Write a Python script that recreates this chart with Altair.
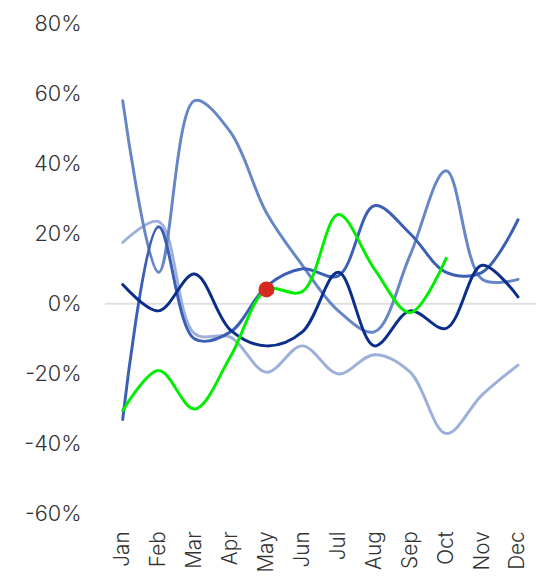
import altair as alt
import pandas as pd

months = ["Jan", "Feb", "Mar", "Apr", "May", "Jun", "Jul", "Aug", "Sep", "Oct", "Nov", "Dec"]

series_lightest = [17.5, 23.5, -8.5, -9.5, -19.5, -12, -20, -14.5, -19.5, -37, -26, -17.5]
series_lightmid = [58, 9, 58, 49, 26, 11, -2, -8, 14, 38, 7, 7]
series_medium = [-33, 22, -10, -8, 5, 10, 8, 28, 20, 9, 9, 24]
series_navy = [5.5, -2, 8.5, -7.5, -12, -8, 9, -12, -2, -7, 11, 2]
series_green = [-30.5, -19, -30, -15, 4, 3.5, 25.5, 10, -2.5, 13]

highlight_month = ["May"]
highlight_value = [4.1]

series_names = ["S1", "S2", "S3", "S4", "S5"]
series_colors = ["#9cb0da", "#6686c6", "#3a5fb4", "#0b2e8c", "#00ee00"]
all_series = [series_lightest, series_lightmid, series_medium, series_navy, series_green]

rows = []
for name, vals in zip(series_names, all_series):
    for i, v in enumerate(vals):
        rows.append({"month": months[i], "value": v, "series": name})
df = pd.DataFrame(rows)

dot_df = pd.DataFrame({"month": highlight_month, "value": highlight_value})
zero_df = pd.DataFrame({"month": ["Jan"], "value": [0]})

FONT = "Inter"

x_scale = alt.Scale(type="point", padding=0.5, domain=months)
y_scale = alt.Scale(domain=[-60, 80], nice=False, zero=False)

x_enc = alt.X(
    "month:O",
    sort=months,
    scale=x_scale,
    axis=alt.Axis(
        title=None, labelAngle=-90, labelFontSize=21, labelColor="#333333",
        labelFont=FONT, labelFontWeight=300, ticks=False, domain=False, grid=False,
        labelPadding=17, labelAlign="right", labelBaseline="middle",
    ),
)
y_enc = alt.Y(
    "value:Q",
    scale=y_scale,
    axis=alt.Axis(
        title=None, values=[-60, -40, -20, 0, 20, 40, 60, 80],
        labelExpr="datum.value + '%'", labelFontSize=22, labelColor="#333333",
        labelFont=FONT, labelFontWeight=300, ticks=False, domain=False, grid=False,
        labelPadding=24,
    ),
)

zero_rule = alt.Chart(zero_df).mark_rule(color="#e0e0e0", strokeWidth=2).encode(
    y=y_enc
)

lines = []
for name, color in zip(series_names, series_colors):
    lines.append(
        alt.Chart(df[df["series"] == name]).mark_line(
            interpolate="catmull-rom", strokeWidth=3, color=color, strokeCap="round"
        ).encode(x=x_enc, y=y_enc)
    )

dot = alt.Chart(dot_df).mark_point(
    filled=True, size=260, color="#d62a1f", opacity=1, shape="circle"
).encode(x=x_enc, y=y_enc)

chart = alt.layer(zero_rule, *lines, dot).properties(
    width=437, height=497,
    autosize=alt.AutoSizeParams(type="none"),
    padding={"left": 98, "top": 12, "right": 0, "bottom": 60},
).configure_view(stroke=None)

chart.save("out.html", embed_options={"renderer": "svg", "actions": False})
